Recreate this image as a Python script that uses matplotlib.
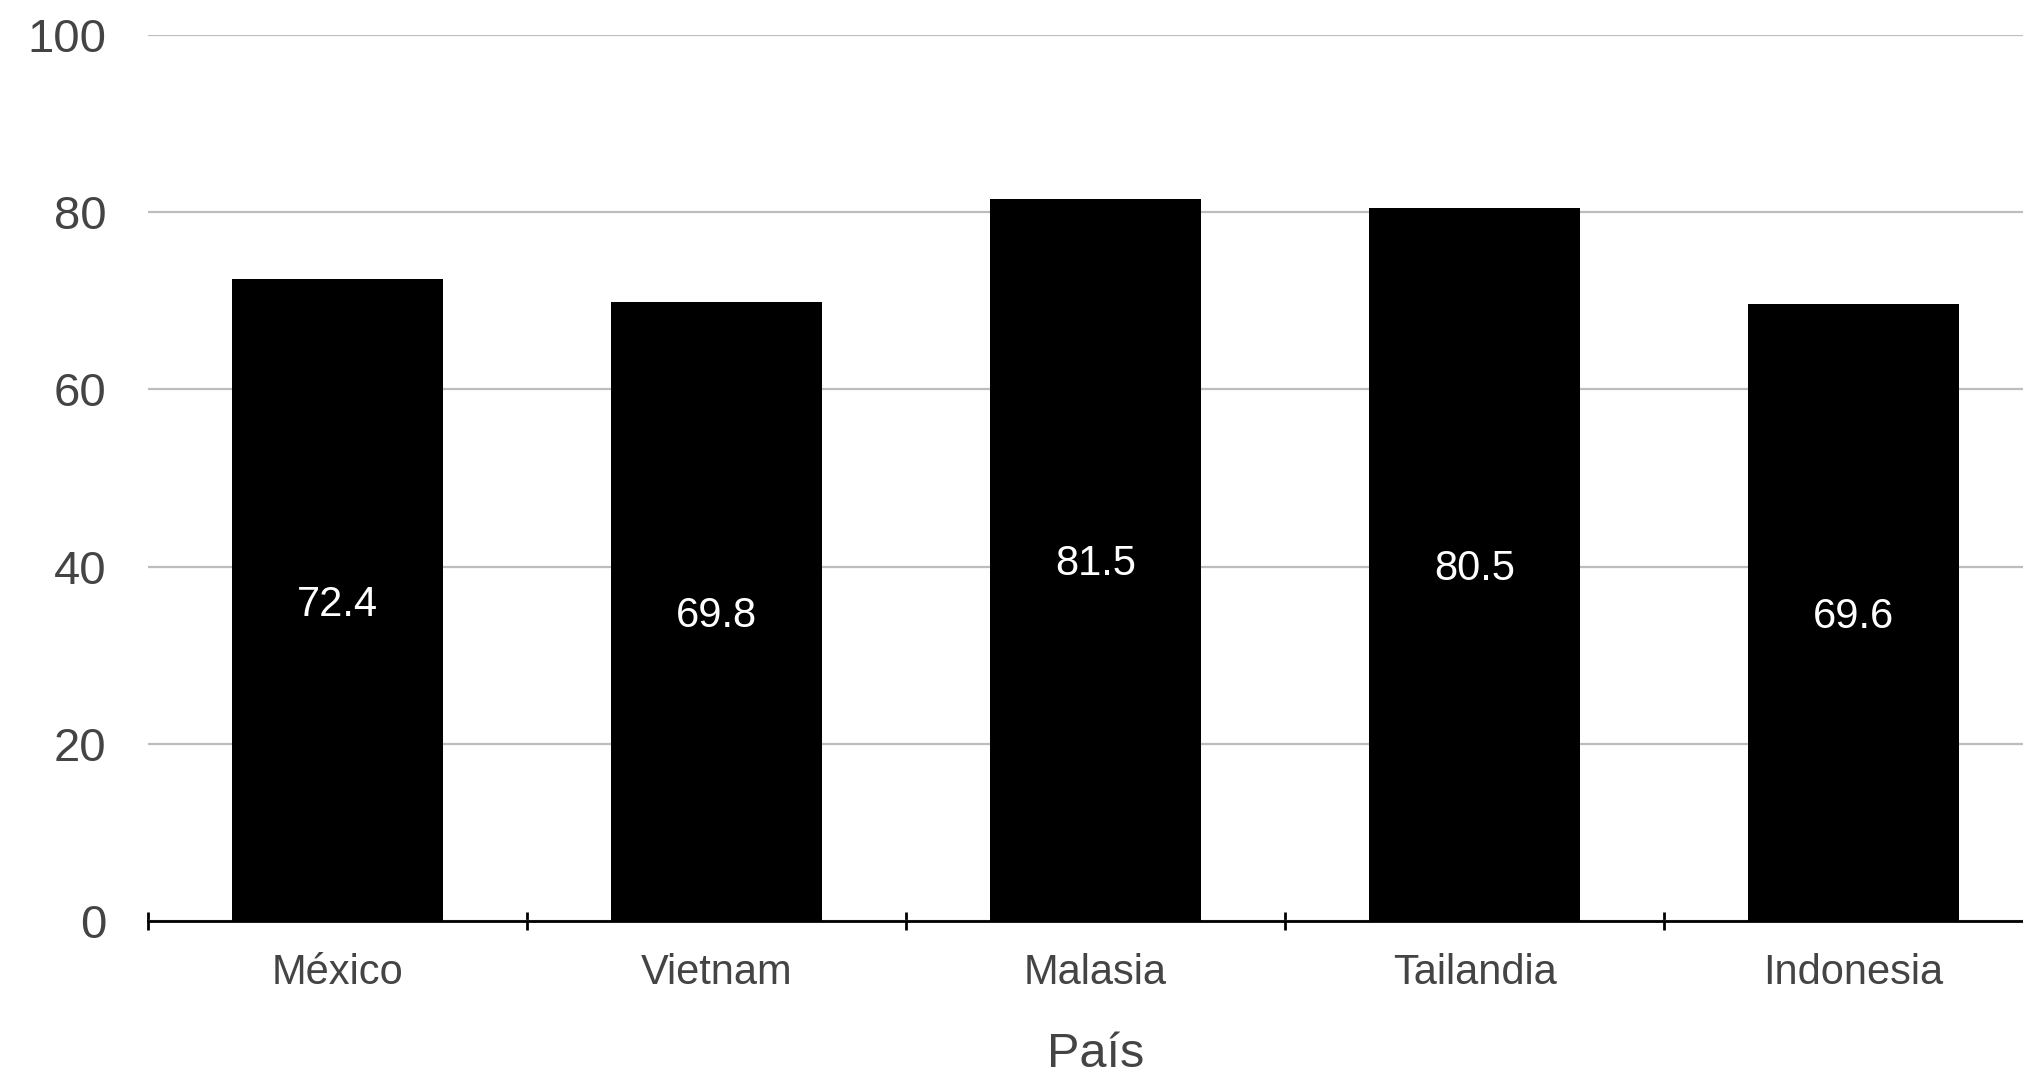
import matplotlib.pyplot as plt
import numpy as np

paises = ["México", "Vietnam", "Malasia", "Tailandia", "Indonesia"]
valores = [72.4, 69.8, 81.5, 80.5, 69.6]
y_ticks = [0, 20, 40, 60, 80, 100]

plt.rcParams['font.family'] = ['Liberation Sans', 'DejaVu Sans']

fig = plt.figure(figsize=(20.23, 10.76), dpi=100)
# axes runs a little past the right edge, as in the original
ax = fig.add_axes([0.0732, 0.144, 0.9367, 0.8236])

x = np.arange(len(paises))
bars = ax.bar(x, valores, width=0.555, color="black", zorder=3)

for xi, v in zip(x, valores):
    ax.text(xi, v / 2, f"{v}", ha="center", va="center_baseline", color="white", fontsize=30, zorder=4)

ax.set_xlim(-0.5, len(paises) - 0.5)
ax.set_ylim(0, 100)
ax.set_yticks(y_ticks)
ax.set_yticklabels([str(t) for t in y_ticks])
ax.yaxis.grid(True, color="#bdbdbd", linewidth=1.6, zorder=0)
ax.set_axisbelow(True)

ax.set_xticks(x)
ax.set_xticklabels(paises)
ax.set_xticks(np.arange(-0.5, len(paises) - 0.5, 1.0), minor=True)
ax.tick_params(axis="x", which="major", length=0, pad=23, labelsize=30, labelcolor="#444444")
ax.tick_params(axis="x", which="minor", direction="inout", length=13, width=2, color="black")
ax.tick_params(axis="y", length=0, pad=30, labelsize=34, labelcolor="#444444")

for s in ["left", "right", "top"]:
    ax.spines[s].set_visible(False)
ax.spines["bottom"].set_color("black")
ax.spines["bottom"].set_linewidth(2)
ax.spines["bottom"].set_zorder(5)

ax.set_xlabel("País", fontsize=35, color="#444444", labelpad=28)

fig.savefig("out.png", dpi=100)
